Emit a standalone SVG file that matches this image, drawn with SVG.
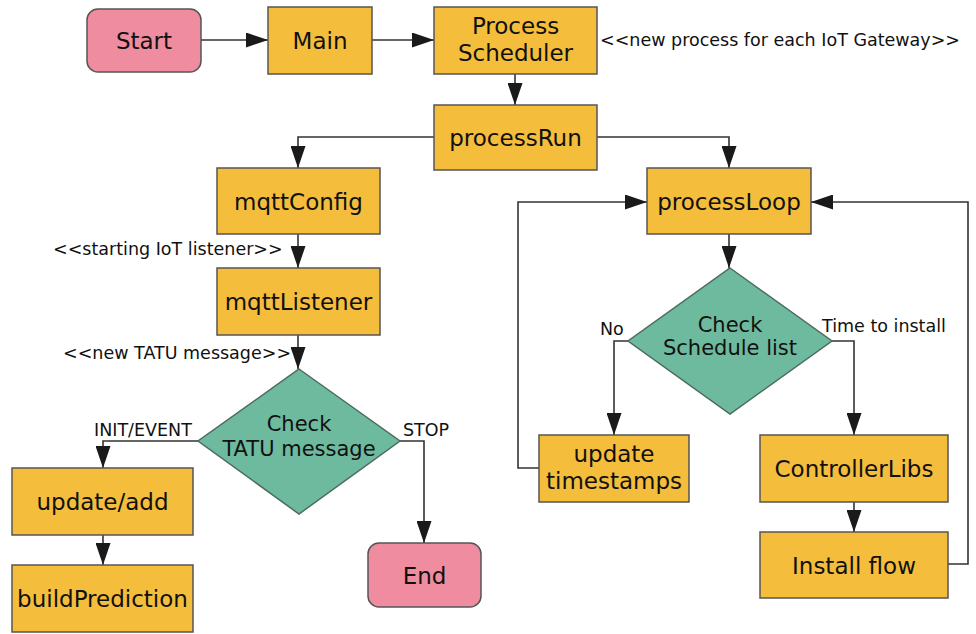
<svg xmlns="http://www.w3.org/2000/svg" width="976" height="634" viewBox="0 0 976 634">
  <style>
    .proc { fill: #F4BD3C; stroke: #555; stroke-width: 1.5; }
    .term { fill: #EF8C9F; stroke: #555; stroke-width: 1.5; }
    .dec { fill: #6DBA9F; stroke: #4d6b5f; stroke-width: 1.5; }
    .t { font-family: "DejaVu Sans", sans-serif; font-size: 23px; fill: #111; text-anchor: middle; }
    .td { font-family: "DejaVu Sans", sans-serif; font-size: 21px; fill: #111; text-anchor: middle; }
    .lbl { font-family: "DejaVu Sans", sans-serif; font-size: 17.5px; fill: #111; }
    .conn path { fill: none; stroke: #333; stroke-width: 1.6; marker-end: url(#arrow); }
  </style>
  <defs>
    <marker id="arrow" markerUnits="userSpaceOnUse" markerWidth="22" markerHeight="15" refX="22" refY="7.5" orient="auto">
      <path d="M0,0 L22,7.5 L0,15 z" fill="#1a1a1a"/>
    </marker>
  </defs>
  <rect width="976" height="634" fill="#fff"/>

  <!-- connectors -->
  <g id="connectors" class="conn">
    <path d="M201,40 H268"/>
    <path d="M372,40 H434"/>
    <path d="M515,74 V105"/>
    <path d="M434,137 H298 V168"/>
    <path d="M597,137 H729 V168"/>
    <path d="M298,234 V268"/>
    <path d="M298,335 V369"/>
    <path d="M198,441 H103 V468"/>
    <path d="M400,441 H424 V543"/>
    <path d="M103,535 V565"/>
    <path d="M729,234 V268"/>
    <path d="M628,341 H614 V435"/>
    <path d="M832,341 H854 V435"/>
    <path d="M539,468 H518 V202 H647"/>
    <path d="M854,502 V532"/>
    <path d="M948,564 H968 V202 H811"/>
  </g>

  <!-- edge labels -->
  <g id="labels" class="lbl">
    <text x="600" y="46">&lt;&lt;new process for each IoT Gateway&gt;&gt;</text>
    <text x="53" y="255">&lt;&lt;starting IoT listener&gt;&gt;</text>
    <text x="63" y="359">&lt;&lt;new TATU message&gt;&gt;</text>
    <text x="94" y="436">INIT/EVENT</text>
    <text x="403" y="436">STOP</text>
    <text x="600" y="335">No</text>
    <text x="822" y="332">Time to install</text>
  </g>

  <g id="start">
    <rect class="term" x="87" y="9" width="114" height="63" rx="11"/>
    <text class="t" x="144" y="49">Start</text>
  </g>
  <g id="main">
    <rect class="proc" x="268" y="7" width="104" height="67"/>
    <text class="t" x="320" y="49">Main</text>
  </g>
  <g id="processScheduler">
    <rect class="proc" x="434" y="7" width="163" height="67"/>
    <text class="t" x="515.5" y="34">Process</text>
    <text class="t" x="515.5" y="61">Scheduler</text>
  </g>
  <g id="processRun">
    <rect class="proc" x="434" y="105" width="163" height="65"/>
    <text class="t" x="515.5" y="146">processRun</text>
  </g>
  <g id="mqttConfig">
    <rect class="proc" x="217" y="168" width="163" height="66"/>
    <text class="t" x="298.5" y="209.5">mqttConfig</text>
  </g>
  <g id="mqttListener">
    <rect class="proc" x="217" y="268" width="163" height="67"/>
    <text class="t" x="298.5" y="310">mqttListener</text>
  </g>
  <g id="checkTatu">
    <polygon class="dec" points="299,369 400,441 299,514 198,441"/>
    <text class="td" x="299" y="431">Check</text>
    <text class="td" x="299" y="456">TATU message</text>
  </g>
  <g id="updateAdd">
    <rect class="proc" x="12" y="468" width="181" height="67"/>
    <text class="t" x="102.5" y="510">update/add</text>
  </g>
  <g id="buildPrediction">
    <rect class="proc" x="12" y="565" width="181" height="67"/>
    <text class="t" x="102.5" y="607">buildPrediction</text>
  </g>
  <g id="end">
    <rect class="term" x="368" y="543" width="113" height="64" rx="11"/>
    <text class="t" x="424.5" y="583.5">End</text>
  </g>
  <g id="processLoop">
    <rect class="proc" x="647" y="168" width="164" height="66"/>
    <text class="t" x="729" y="209.5">processLoop</text>
  </g>
  <g id="checkSchedule">
    <polygon class="dec" points="730,268 832,341 730,414 628,341"/>
    <text class="td" x="730" y="332">Check</text>
    <text class="td" x="730" y="355">Schedule list</text>
  </g>
  <g id="updateTimestamps">
    <rect class="proc" x="539" y="435" width="150" height="67"/>
    <text class="t" x="614" y="462">update</text>
    <text class="t" x="614" y="489">timestamps</text>
  </g>
  <g id="controllerLibs">
    <rect class="proc" x="760" y="435" width="188" height="67"/>
    <text class="t" x="854" y="477">ControllerLibs</text>
  </g>
  <g id="installFlow">
    <rect class="proc" x="760" y="532" width="188" height="66"/>
    <text class="t" x="854" y="573.5">Install flow</text>
  </g>
</svg>
